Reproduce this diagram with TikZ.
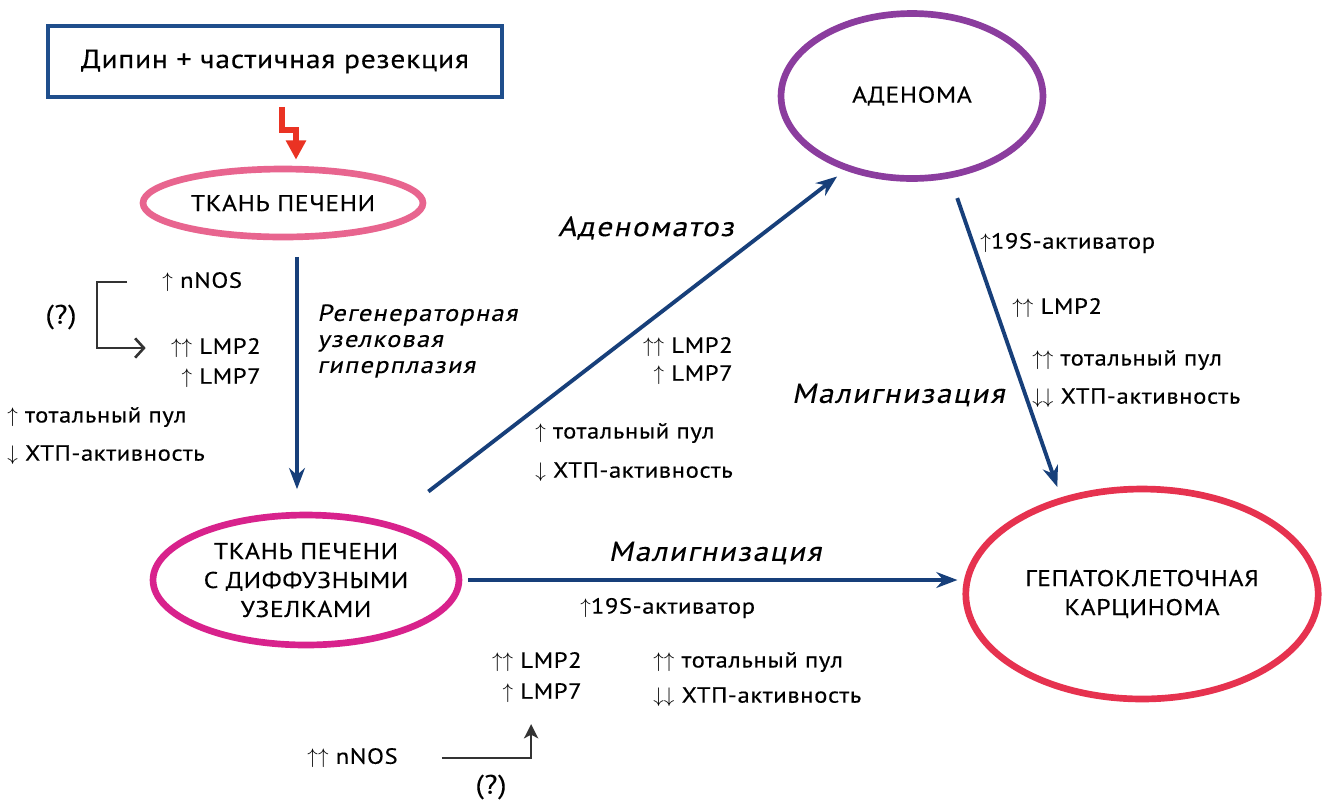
\documentclass[tikz,border=0pt]{standalone}
\usepackage{fontspec}
\setmainfont{PT Sans}[FakeStretch=1.12, LetterSpace=3, FakeBold=0.3]
\newfontfamily\obliquefont{PT Sans}[FakeSlant=0.2, FakeStretch=1.12, LetterSpace=6, FakeBold=0.3]
\usepackage{xcolor}
\usepackage{tikz}
\usetikzlibrary{shapes.geometric, arrows.meta, positioning, calc}

\definecolor{frameblue}{HTML}{1F4E8C}
\definecolor{flowblue}{HTML}{173F7A}
\definecolor{liverpink}{HTML}{E8658F}
\definecolor{nodulemag}{HTML}{D8228C}
\definecolor{adenomapurple}{HTML}{8B3D9E}
\definecolor{hccred}{HTML}{E6324F}
\definecolor{boltred}{HTML}{EA3323}
\definecolor{inkgray}{HTML}{333333}

\newcommand{\arrup}{$\uparrow$}
\newcommand{\arrdn}{$\downarrow$}
\newcommand{\arrupup}{$\uparrow\uparrow$}
\newcommand{\arrdndn}{$\downarrow\downarrow$}

\tikzstyle{startbox} = [rectangle, draw=frameblue, line width=2.2pt, minimum width=9.08cm, minimum height=1.42cm, font=\fontsize{15}{19}\selectfont]
\tikzstyle{tissue} = [ellipse, line width=3.8pt, align=center, inner sep=0pt, font=\fontsize{13}{16.5}\selectfont]
\tikzstyle{change} = [inner sep=0pt, font=\fontsize{12.5}{14}\selectfont]
\tikzstyle{process} = [inner sep=0pt, font=\obliquefont\fontsize{15.7}{17}\selectfont]
\tikzstyle{line} = [draw=flowblue, line width=2.2pt, -{Stealth[length=12pt, width=9pt]}]
\tikzstyle{bolt} = [draw=boltred, line width=3pt, miter limit=4, -{Triangle[length=11pt, width=11pt]}]
\tikzstyle{hint} = [draw=inkgray, line width=1.5pt]

\begin{document}
\begin{tikzpicture}[x=0.02cm, y=-0.02cm]
        \fill [white] (0,0) rectangle (1325,806);
        \useasboundingbox (0,0) rectangle (1325,806);

        % Nodes
        \node [startbox] (dipin) at (275,61.5) {Дипин + частичная резекция\hspace{0.9cm}};
        \node [tissue, draw=liverpink, minimum width=5.6cm, minimum height=1.36cm] (liver) at (283,203) {ТКАНЬ ПЕЧЕНИ};
        \node [tissue, draw=nodulemag, minimum width=6.12cm, minimum height=2.6cm] (nodular) at (306,580) {ТКАНЬ ПЕЧЕНИ\\С ДИФФУЗНЫМИ\\УЗЕЛКАМИ};
        \node [tissue, draw=adenomapurple, minimum width=5.24cm, minimum height=3.3cm] (adenoma) at (912,96) {АДЕНОМА};
        \node [tissue, draw=hccred, minimum width=7.05cm, minimum height=4.2cm] (hcc) at (1142,594) {ГЕПАТОКЛЕТОЧНАЯ\\КАРЦИНОМА};

        % Paths
        \draw [bolt] ($(dipin.south)+(7,8)$) -- ++(0,23) -- ++(14,0) -- ($(liver.north)+(13,-6)$);
        \draw [line, shorten <=0.33cm, shorten >=0.45cm] ([xshift=0.28cm]liver.south) -- ([xshift=0.28cm]liver.south |- nodular.north);
        \draw [line, shorten <=1.0cm, shorten >=0.2cm] (nodular.35) -- (adenoma.228);
        \draw [line, shorten <=0.12cm, shorten >=0.1cm] (nodular.east) -- (nodular.east -| hcc.west);
        \draw [line, shorten <=0.42cm, shorten >=0.22cm] (adenoma.295) -- (hcc.130);

        % Labels
        \node [process, anchor=west, align=left, font=\obliquefont\fontsize{13.3}{14.8}\selectfont] (regen) at (317,341) {Регенераторная\\узелковая\\гиперплазия};
        \node [process] (adenomatosis) at (646,228) {Аденоматоз};
        \node [process, anchor=east] (malignright) at (1005,395) {Малигнизация};
        \node [process] (malignlow) at (715,553) {Малигнизация};

        % Left column
        \node [change, anchor=west] (nnos) at (162,282) {\arrup{} nNOS};
        \node [change, anchor=east] (lmp2) at (261,348) {\arrupup{} LMP2};
        \node [change, anchor=east] (lmp7) at (261,378) {\arrup{} LMP7};
        \node [change, anchor=west] (pool) at (7,417) {\arrup{} тотальный пул};
        \node [change, anchor=west] (ctl) at (7,455) {\arrdn{} ХТП-активность};
        \node [change, font=\fontsize{15}{17}\selectfont] (unsure) at (61,317) {(?)};
        \draw [hint, -{Straight Barb[length=5pt, width=11pt]}] ([xshift=-0.7cm]nnos.west) -- ++(-30,0) |- ([xshift=-0.5cm]lmp2.west);

        % Adenomatosis column
        \node [change, anchor=east] (lmp2a) at (733,347) {\arrupup{} LMP2};
        \node [change, anchor=east] (lmp7a) at (733,375) {\arrup{} LMP7};
        \node [change, anchor=west] (poola) at (535,433) {\arrup{} тотальный пул};
        \node [change, anchor=west] (ctla) at (535,472) {\arrdn{} ХТП-активность};

        % Adenoma to carcinoma column
        \node [change, anchor=west] (actb) at (980,243) {\arrup19S-активатор};
        \node [change, anchor=west] (lmp2b) at (1012,308) {\arrupup{} LMP2};
        \node [change, anchor=west] (poolb) at (1032,360) {\arrupup{} тотальный пул};
        \node [change, anchor=west] (ctlb) at (1032,398) {\arrdndn{} ХТП-активность};

        % Nodules to carcinoma
        \node [change, anchor=west] (actc) at (580,608) {\arrup19S-активатор};
        \node [change, anchor=east] (lmp2c) at (582,662) {\arrupup{} LMP2};
        \node [change, anchor=east] (lmp7c) at (582,693) {\arrup{} LMP7};
        \node [change, anchor=west] (poolc) at (653,662) {\arrupup{} тотальный пул};
        \node [change, anchor=west] (ctlc) at (653,697) {\arrdndn{} ХТП-активность};
        \node [change, anchor=east] (nnosc) at (398,758) {\arrupup{} nNOS};
        \node [change, font=\fontsize{15}{17}\selectfont] (unsurec) at (491,787) {(?)};
        \draw [hint, -{Stealth[length=8pt, width=8pt, inset=2pt]}] ([xshift=0.88cm]nnosc.east) -| ([xshift=-0.22cm, yshift=-0.42cm]lmp7c.south);
    \end{tikzpicture}
\end{document}
